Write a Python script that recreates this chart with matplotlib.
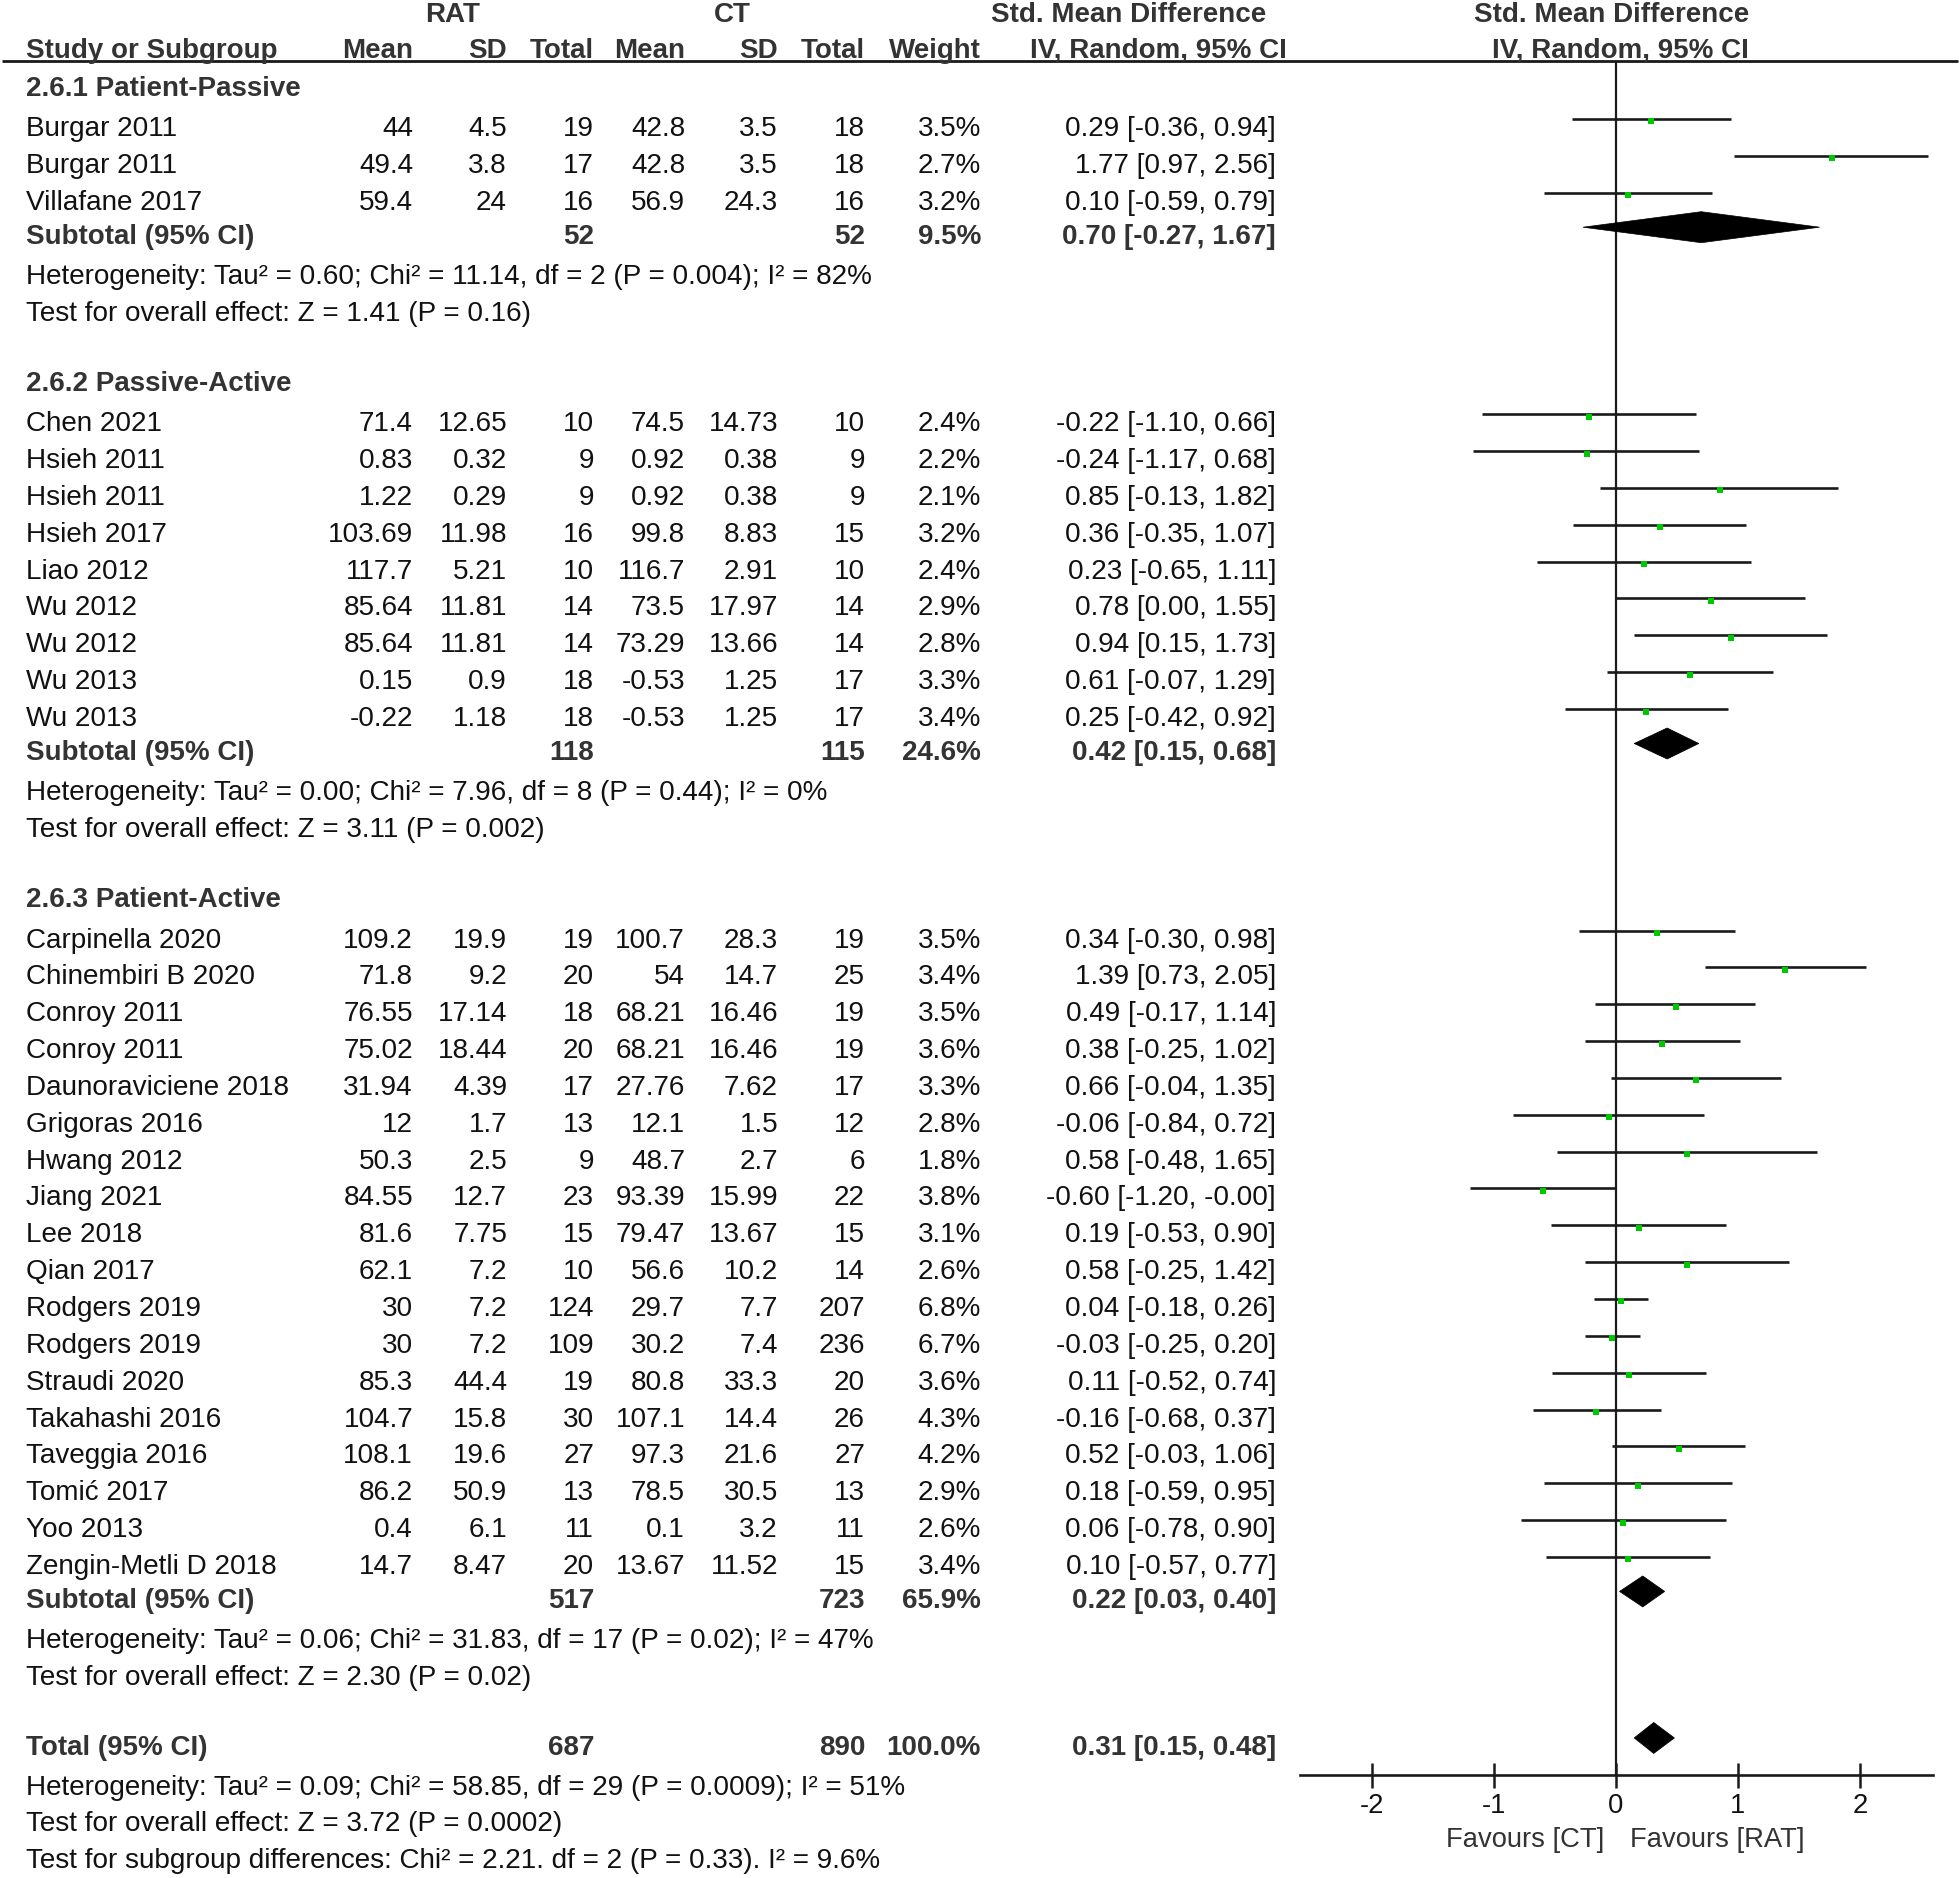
import matplotlib
matplotlib.use("Agg")
import matplotlib.pyplot as plt
from matplotlib.patches import Polygon

# ---------------- data ----------------
study = ["Burgar 2011", "Burgar 2011", "Villafane 2017",
         "Chen 2021", "Hsieh 2011", "Hsieh 2011", "Hsieh 2017", "Liao 2012",
         "Wu 2012", "Wu 2012", "Wu 2013", "Wu 2013",
         "Carpinella 2020", "Chinembiri B 2020", "Conroy 2011", "Conroy 2011",
         "Daunoraviciene 2018", "Grigoras 2016", "Hwang 2012", "Jiang 2021",
         "Lee 2018", "Qian 2017", "Rodgers 2019", "Rodgers 2019", "Straudi 2020",
         "Takahashi 2016", "Taveggia 2016", "Tomić 2017", "Yoo 2013",
         "Zengin-Metli D 2018"]
group_id = [0] * 3 + [1] * 9 + [2] * 18
rat_mean = [44, 49.4, 59.4,
            71.4, 0.83, 1.22, 103.69, 117.7, 85.64, 85.64, 0.15, -0.22,
            109.2, 71.8, 76.55, 75.02, 31.94, 12, 50.3, 84.55, 81.6, 62.1,
            30, 30, 85.3, 104.7, 108.1, 86.2, 0.4, 14.7]
rat_sd = [4.5, 3.8, 24,
          12.65, 0.32, 0.29, 11.98, 5.21, 11.81, 11.81, 0.9, 1.18,
          19.9, 9.2, 17.14, 18.44, 4.39, 1.7, 2.5, 12.7, 7.75, 7.2,
          7.2, 7.2, 44.4, 15.8, 19.6, 50.9, 6.1, 8.47]
rat_n = [19, 17, 16,
         10, 9, 9, 16, 10, 14, 14, 18, 18,
         19, 20, 18, 20, 17, 13, 9, 23, 15, 10, 124, 109, 19, 30, 27, 13, 11, 20]
ct_mean = [42.8, 42.8, 56.9,
           74.5, 0.92, 0.92, 99.8, 116.7, 73.5, 73.29, -0.53, -0.53,
           100.7, 54, 68.21, 68.21, 27.76, 12.1, 48.7, 93.39, 79.47, 56.6,
           29.7, 30.2, 80.8, 107.1, 97.3, 78.5, 0.1, 13.67]
ct_sd = [3.5, 3.5, 24.3,
         14.73, 0.38, 0.38, 8.83, 2.91, 17.97, 13.66, 1.25, 1.25,
         28.3, 14.7, 16.46, 16.46, 7.62, 1.5, 2.7, 15.99, 13.67, 10.2,
         7.7, 7.4, 33.3, 14.4, 21.6, 30.5, 3.2, 11.52]
ct_n = [18, 18, 16,
        10, 9, 9, 15, 10, 14, 14, 17, 17,
        19, 25, 19, 19, 17, 12, 6, 22, 15, 14, 207, 236, 20, 26, 27, 13, 11, 15]
weight = [3.5, 2.7, 3.2,
          2.4, 2.2, 2.1, 3.2, 2.4, 2.9, 2.8, 3.3, 3.4,
          3.5, 3.4, 3.5, 3.6, 3.3, 2.8, 1.8, 3.8, 3.1, 2.6, 6.8, 6.7, 3.6,
          4.3, 4.2, 2.9, 2.6, 3.4]
smd = [0.29, 1.77, 0.10,
       -0.22, -0.24, 0.85, 0.36, 0.23, 0.78, 0.94, 0.61, 0.25,
       0.34, 1.39, 0.49, 0.38, 0.66, -0.06, 0.58, -0.60, 0.19, 0.58,
       0.04, -0.03, 0.11, -0.16, 0.52, 0.18, 0.06, 0.10]
ci_lo = [-0.36, 0.97, -0.59,
         -1.10, -1.17, -0.13, -0.35, -0.65, 0.00, 0.15, -0.07, -0.42,
         -0.30, 0.73, -0.17, -0.25, -0.04, -0.84, -0.48, -1.20, -0.53, -0.25,
         -0.18, -0.25, -0.52, -0.68, -0.03, -0.59, -0.78, -0.57]
ci_hi = [0.94, 2.56, 0.79,
         0.66, 0.68, 1.82, 1.07, 1.11, 1.55, 1.73, 1.29, 0.92,
         0.98, 2.05, 1.14, 1.02, 1.35, 0.72, 1.65, -0.004, 0.90, 1.42,
         0.26, 0.20, 0.74, 0.37, 1.06, 0.95, 0.90, 0.77]

group_titles = ["2.6.1 Patient-Passive", "2.6.2 Passive-Active", "2.6.3 Patient-Active"]
sub_rat_n = [52, 118, 517]
sub_ct_n = [52, 115, 723]
sub_weight = [9.5, 24.6, 65.9]
sub_smd = [0.70, 0.42, 0.22]
sub_lo = [-0.27, 0.15, 0.03]
sub_hi = [1.67, 0.68, 0.40]
sub_het = ["Heterogeneity: Tau² = 0.60; Chi² = 11.14, df = 2 (P = 0.004); I² = 82%",
           "Heterogeneity: Tau² = 0.00; Chi² = 7.96, df = 8 (P = 0.44); I² = 0%",
           "Heterogeneity: Tau² = 0.06; Chi² = 31.83, df = 17 (P = 0.02); I² = 47%"]
sub_test = ["Test for overall effect: Z = 1.41 (P = 0.16)",
            "Test for overall effect: Z = 3.11 (P = 0.002)",
            "Test for overall effect: Z = 2.30 (P = 0.02)"]
total_rat_n = 687
total_ct_n = 890
total_weight = 100.0
total_smd = 0.31
total_lo = 0.15
total_hi = 0.48
total_notes = ["Heterogeneity: Tau² = 0.09; Chi² = 58.85, df = 29 (P = 0.0009); I² = 51%",
               "Test for overall effect: Z = 3.72 (P = 0.0002)",
               "Test for subgroup differences: Chi² = 2.21. df = 2 (P = 0.33). I² = 9.6%"]
x_ticks = [-2, -1, 0, 1, 2]
x_tick_labels = ["-2", "-1", "0", "1", "2"]

# ---------------- layout ----------------
W, H = 1960, 1878
plt.rcParams["font.family"] = ["Liberation Sans", "DejaVu Sans"]
FS = 20.1
FS_BOLD = 19.95
FS_AXIS = 19.7
BODY = "#111111"
BOLDC = "#333333"
LINEC = "#1a1a1a"
GREEN = "#00c800"

fig = plt.figure(figsize=(W / 100, H / 100), dpi=100)
tab = fig.add_axes([0, 0, 1, 1])
tab.set_xlim(0, W)
tab.set_ylim(H, 0)
tab.axis("off")

AX_L, AX_R, AX_T, AX_B = 1300, 1933, 61, 1775
fa = fig.add_axes([AX_L / W, 1 - AX_B / H, (AX_R - AX_L) / W, (AX_B - AX_T) / H])
fa.set_xlim(-2.59, 2.60)
fa.set_ylim(AX_B, AX_T)
fa.patch.set_visible(False)
for s in ["top", "right", "left"]:
    fa.spines[s].set_visible(False)
fa.spines["bottom"].set_linewidth(1.9)
fa.spines["bottom"].set_color(LINEC)
fa.set_yticks([])
fa.set_xticks(x_ticks)
fa.set_xticklabels(x_tick_labels)
fa.tick_params(axis="x", direction="inout", length=18, width=1.8, color=LINEC,
               labelsize=FS_AXIS, pad=4, labelcolor=BODY)
fa.axvline(0, color=LINEC, lw=1.6, zorder=1)

# column right edges
X_NAME = 26
X_RM, X_RSD, X_RN = 413, 507, 594
X_CM, X_CSD, X_CN = 685, 778, 865
X_W, X_CI = 981, 1276


def txt(x, y, s, ha="left", bold=False, color=None, size=None):
    if size is None:
        size = FS_BOLD if bold else FS
    tab.text(x, y, s, ha=ha, va="baseline", fontsize=size,
             fontweight="bold" if bold else "normal",
             color=color if color else (BOLDC if bold else BODY))


def fmt(v):
    return f"{v:g}"


def ci_str(e, lo, hi):
    return f"{e:.2f} [{lo:.2f}, {hi:.2f}]"


MARK_DY = -17
DIA_H = 15.5


def diamond(y, e, lo, hi):
    yc = y + MARK_DY
    fa.add_patch(Polygon([(lo, yc), (e, yc - DIA_H), (hi, yc), (e, yc + DIA_H)],
                         closed=True, facecolor="black", edgecolor="black", lw=0.5, zorder=3))


# header
txt(453, 22, "RAT", ha="center", bold=True)
txt(732, 22, "CT", ha="center", bold=True)
txt(1129, 22, "Std. Mean Difference", ha="center", bold=True)
txt(1612, 22, "Std. Mean Difference", ha="center", bold=True)
txt(X_NAME, 58, "Study or Subgroup", bold=True)
for x, s in [(X_RM, "Mean"), (X_RSD, "SD"), (X_RN, "Total"), (X_CM, "Mean"),
             (X_CSD, "SD"), (X_CN, "Total"), (X_W, "Weight"), (1287, "IV, Random, 95% CI")]:
    txt(x, 58, s, ha="right", bold=True)
txt(1620, 58, "IV, Random, 95% CI", ha="center", bold=True)
tab.plot([2, W - 2], [61, 61], color=LINEC, lw=2.0, solid_capstyle="butt")

STEP = 36.85
y = 95.5
for g in range(len(group_titles)):
    txt(X_NAME, y, group_titles[g], bold=True)
    y += 40.5
    idx = [i for i, gi in enumerate(group_id) if gi == g]
    for k, i in enumerate(idx):
        txt(X_NAME, y, study[i])
        txt(X_RM, y, fmt(rat_mean[i]), ha="right")
        txt(X_RSD, y, fmt(rat_sd[i]), ha="right")
        txt(X_RN, y, fmt(rat_n[i]), ha="right")
        txt(X_CM, y, fmt(ct_mean[i]), ha="right")
        txt(X_CSD, y, fmt(ct_sd[i]), ha="right")
        txt(X_CN, y, fmt(ct_n[i]), ha="right")
        txt(X_W, y, f"{weight[i]:.1f}%", ha="right")
        txt(X_CI, y, ci_str(smd[i], ci_lo[i], ci_hi[i]), ha="right")
        yl = y + MARK_DY
        fa.plot([ci_lo[i], ci_hi[i]], [yl, yl], color=LINEC, lw=1.9, zorder=2,
                solid_capstyle="butt")
        fa.plot([smd[i]], [yl + 2.5], marker="s", ms=4.4, color=GREEN,
                markeredgewidth=0, zorder=4)
        if k < len(idx) - 1:
            y += STEP
    y += 34.5
    txt(X_NAME, y, "Subtotal (95% CI)", bold=True)
    txt(X_RN, y, fmt(sub_rat_n[g]), ha="right", bold=True)
    txt(X_CN, y, fmt(sub_ct_n[g]), ha="right", bold=True)
    txt(X_W, y, f"{sub_weight[g]:.1f}%", ha="right", bold=True)
    txt(X_CI, y, ci_str(sub_smd[g], sub_lo[g], sub_hi[g]), ha="right", bold=True)
    diamond(y, sub_smd[g], sub_lo[g], sub_hi[g])
    y += 40
    txt(X_NAME, y, sub_het[g])
    y += 36.5
    txt(X_NAME, y, sub_test[g])
    y += 70

txt(X_NAME, y, "Total (95% CI)", bold=True)
txt(X_RN, y, fmt(total_rat_n), ha="right", bold=True)
txt(X_CN, y, fmt(total_ct_n), ha="right", bold=True)
txt(X_W, y, f"{total_weight:.1f}%", ha="right", bold=True)
txt(X_CI, y, ci_str(total_smd, total_lo, total_hi), ha="right", bold=True)
diamond(y, total_smd, total_lo, total_hi)
y += 40
for s in total_notes:
    txt(X_NAME, y, s)
    y += 36.5

txt(1604, 1847, "Favours [CT]", ha="right", color=BOLDC, size=FS_AXIS)
txt(1630, 1847, "Favours [RAT]", ha="left", color=BOLDC, size=FS_AXIS)

fig.savefig("out.png", dpi=100)
